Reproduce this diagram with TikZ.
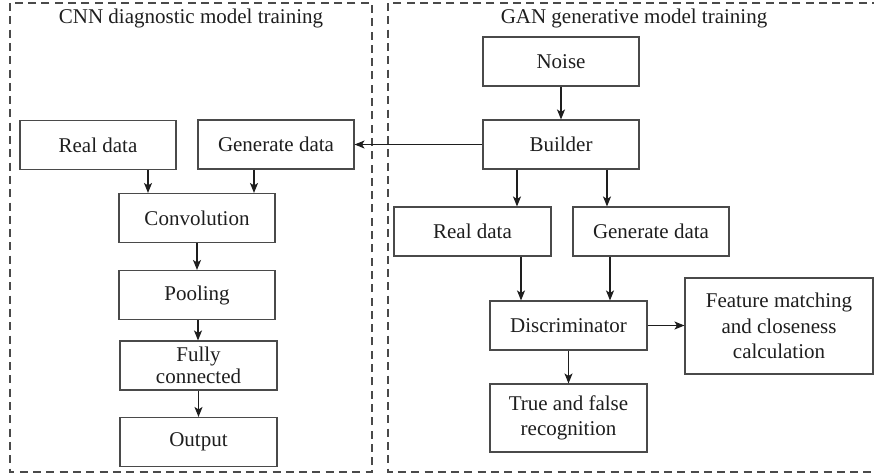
\documentclass[tikz,border=0pt]{standalone}
\usepackage{fontspec}
\setmainfont{Liberation Serif}
\usetikzlibrary{arrows.meta,calc}
\definecolor{ink}{HTML}{1E1E1E}
\definecolor{edge}{HTML}{4A4A4A}
\begin{document}
\begin{tikzpicture}[x=1pt,y=-1pt,
  font=\fontsize{21}{25.5}\selectfont,
  box/.style={draw=edge,line width=1.1pt,text=ink,align=center,inner sep=0pt,
    minimum width=156,minimum height=49},
  arr/.style={draw=ink,line width=1.1pt,-{Stealth[length=10pt,width=8pt,inset=2.5pt]}},
  frame/.style={draw=edge,line width=1.1pt,dash pattern=on 8pt off 5.3pt}]
\useasboundingbox (0,0) rectangle (874,474);

% dashed frames of the two training stages
\draw[frame] (10,3) rectangle (372,472);
\draw[frame] (880,3) -- (388,3) -- (388,472) -- (880,472);

\node[text=ink] (tcnn) at (191,18) {CNN diagnostic model training};
\node[text=ink] (tgan) at (634,18) {GAN generative model training};

% CNN branch
\node[box] (lreal) at (98,145)    {Real data};
\node[box] (lgen)  at (276,144.5) {Generate data};
\node[box] (conv)  at (197,218)   {Convolution};
\node[box] (pool)  at (197,295)   {Pooling};
\node[box,minimum width=157] (fc)  at (198.5,365.5) {Fully\\[-4pt]connected};
\node[box,minimum width=157] (out) at (198.5,442)   {Output};

% GAN branch
\node[box] (noise)   at (561,61.5)  {Noise};
\node[box] (builder) at (561,144.5) {Builder};
\node[box,minimum width=157] (rreal) at (472.5,231.5) {Real data};
\node[box] (rgen)  at (651,231.5) {Generate data};
\node[box,minimum width=157] (disc)  at (568.5,325.5) {Discriminator};
\node[box,minimum width=188,minimum height=96] (feat) at (779,326)
  {Feature matching\\and closeness\\calculation};
\node[box,minimum width=157,minimum height=68] (truef) at (568.5,418)
  {True and false\\recognition};

% connectors
\draw[arr] ([xshift=50]lreal.south) -- ([xshift=50]lreal.south |- conv.north);
\draw[arr] ([xshift=-22]lgen.south) -- ([xshift=-22]lgen.south |- conv.north);
\draw[arr] (conv.south) -- (conv.south |- pool.north);
\draw[arr] ([xshift=1]pool.south) -- ([xshift=1]pool.south |- fc.north);
\draw[arr] (fc.south) -- (fc.south |- out.north);

\draw[arr] (noise.south) -- (builder.north);
\draw[arr] (builder.west) -- (builder.west -| lgen.east);
\draw[arr] ([xshift=-44]builder.south) -- ([xshift=-44]builder.south |- rreal.north);
\draw[arr] ([xshift=46]builder.south) -- ([xshift=46]builder.south |- rgen.north);
\draw[arr] ([xshift=48.5]rreal.south) -- ([xshift=48.5]rreal.south |- disc.north);
\draw[arr] ([xshift=-41]rgen.south) -- ([xshift=-41]rgen.south |- disc.north);
\draw[arr] (disc.east) -- (disc.east -| feat.west);
\draw[arr] (disc.south) -- (truef.north);
\end{tikzpicture}
\end{document}
